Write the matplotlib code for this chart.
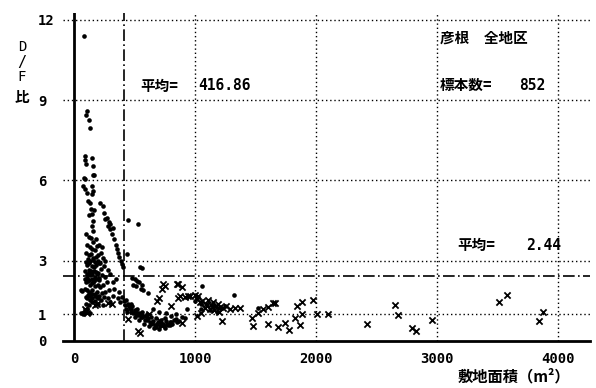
import matplotlib
matplotlib.use("Agg")
import matplotlib.pyplot as plt

plt.rcParams['font.family'] = ['Noto Sans CJK JP', 'DejaVu Sans']

# D/F ratio vs site area, Hikone (all districts)
# dots: filled circles, crosses: x markers
dot_x = [83, 107, 101, 124, 132, 91, 91, 99, 149, 157, 165, 83, 91, 157,
         74, 90, 107, 149, 157, 152, 116, 132, 215, 240,
         140, 165, 125, 150, 157, 145, 157, 273, 290, 297, 322,
         300, 315, 330, 345, 355, 365, 375, 385, 395, 405, 250, 260, 280,
         446, 529, 438, 545, 562,
         100, 120, 140, 160, 180, 110, 130, 150, 170, 190, 210, 230, 100, 120, 140, 160, 180, 200, 220, 240, 260,
         95, 110, 125, 145, 165, 185, 205, 225, 250, 280,
         90, 105, 120, 135, 150, 170, 190, 210, 235, 260, 300,
         88, 100, 115, 130, 145, 160, 175, 195, 215, 240, 270, 320, 350,
         90, 105, 120, 135, 150, 170, 190, 210, 230, 260, 290, 330, 370,
         95, 110, 130, 150, 175, 200, 225, 250, 280, 320, 360, 400,
         100, 125, 150, 200, 240, 300, 380, 58, 66,
         115, 135, 155, 175, 195, 215, 105, 125, 145, 165, 185, 205,
         112, 132, 152, 172, 192, 122, 142, 162, 182, 202,
         480, 500, 520, 540, 560, 490, 510, 550, 570, 610,
         410, 420, 430, 445, 460, 470, 480, 500, 510, 520, 540, 550, 560, 580, 590, 600, 615, 630,
         640, 655, 670, 680, 695, 710, 720, 735, 750, 760, 775, 790, 810, 830, 850, 870,
         620, 660, 700, 740, 580, 540, 500, 470, 430,
         655, 700, 760, 800, 840, 890, 920,
         455, 490, 525, 565, 605, 645, 685, 725, 765, 805, 845,
         440, 475, 515, 555, 595, 635, 675, 715, 755, 795,
         934, 1058, 1322, 1521,
         1000, 1050, 1100, 1150, 1200, 1250, 1050, 1120, 1180,
         60, 75, 85, 110, 130]
dot_y = [11.4, 8.6, 8.45, 8.25, 7.95, 6.9, 6.75, 6.6, 6.85, 6.55, 6.2, 6.1, 6.07, 6.19,
         5.8, 5.7, 5.55, 5.8, 5.6, 5.5, 5.25, 5.14, 5.17, 5.06,
         4.95, 4.9, 4.7, 4.76, 4.5, 4.3, 4.12, 4.6, 4.45, 4.39, 4.24,
         4.2, 4.0, 3.8, 3.6, 3.45, 3.3, 3.15, 3.0, 2.88, 2.75, 4.8, 4.55, 4.3,
         4.54, 4.39, 3.26, 2.77, 2.74,
         4.0, 3.9, 3.85, 3.7, 3.8, 3.6, 3.5, 3.45, 3.4, 3.55, 3.6, 3.5, 3.3, 3.2, 3.25, 3.1, 3.15, 3.2, 3.3, 3.1, 3.0,
         2.95, 2.85, 2.9, 2.8, 2.75, 2.85, 2.9, 2.7, 2.8, 2.65,
         2.6, 2.5, 2.55, 2.45, 2.5, 2.4, 2.5, 2.35, 2.45, 2.4, 2.5,
         2.3, 2.2, 2.25, 2.1, 2.15, 2.2, 2.05, 2.1, 2.0, 2.1, 2.2, 2.2, 2.3,
         1.95, 1.9, 1.85, 1.8, 1.9, 1.75, 1.85, 1.7, 1.8, 1.85, 1.9, 1.95, 1.85,
         1.65, 1.6, 1.55, 1.6, 1.5, 1.6, 1.55, 1.65, 1.6, 1.7, 1.6, 1.65,
         1.4, 1.35, 1.45, 1.4, 1.35, 1.45, 1.45, 1.9, 1.87,
         3.05, 2.98, 3.02, 2.95, 3.0, 2.92, 2.35, 2.28, 2.32, 2.25, 2.3, 2.27,
         1.72, 1.68, 1.75, 1.7, 1.66, 2.65, 2.6, 2.62, 2.58, 2.55,
         2.36, 2.3, 2.25, 2.2, 2.1, 2.1, 2.05, 1.95, 1.9, 1.8,
         1.5, 1.35, 1.2, 1.4, 1.25, 1.1, 1.3, 1.15, 1.0, 1.2, 1.05, 0.9, 1.1, 0.95, 0.8, 1.0, 0.85, 0.7,
         0.9, 0.75, 0.6, 0.85, 0.7, 0.55, 0.8, 0.65, 0.5, 0.75, 0.6, 0.7, 0.65, 0.8, 0.7, 0.75,
         0.55, 0.5, 0.45, 0.55, 0.65, 0.8, 0.9, 1.4, 1.55,
         1.2, 1.1, 1.05, 0.95, 1.0, 0.9, 0.85,
         1.3, 1.05, 0.98, 0.88, 0.78, 0.66, 0.62, 0.6, 0.62, 0.72, 0.82,
         1.1, 1.2, 1.1, 1.0, 0.92, 0.62, 0.52, 0.68, 0.86, 0.58,
         1.2, 2.06, 1.72, 1.24,
         1.5, 1.4, 1.35, 1.3, 1.25, 1.3, 1.2, 1.15, 1.1,
         1.05, 1.0, 1.1, 1.2, 1.05]

cross_x = [90, 107, 100, 173, 190, 280, 313, 446, 530, 545, 727, 752, 735, 850, 860, 892, 686, 700,
           860, 917, 942, 875, 1025, 960, 1000,
           1016, 1040, 1060, 1090, 1110, 1130, 1150, 1170, 1190, 1210, 1231, 1080, 1120, 1160, 1200, 1050,
           1330, 1372, 1290, 1260, 1016, 1223,
           463, 711, 892, 620, 800,
           1471, 1521, 1562, 1603, 1661, 1645, 1479, 1603, 1686, 1744, 1777, 1843, 1884, 1826, 1884, 1868,
           1975, 2008, 2099, 2421, 2653, 2678, 2793, 2826, 2959, 3512, 3578, 3843, 3876]
cross_y = [1.2, 1.05, 1.12, 1.35, 1.39, 1.42, 1.39, 0.82, 0.37, 0.3, 1.95, 2.06, 2.14, 2.14, 2.14, 2.02, 1.5, 1.6,
           1.61, 1.65, 1.69, 1.69, 1.69, 1.7, 1.72,
           1.57, 1.45, 1.5, 1.4, 1.55, 1.35, 1.45, 1.3, 1.4, 1.28, 1.24, 1.25, 1.2, 1.15, 1.1, 1.05,
           1.24, 1.24, 1.2, 1.3, 0.94, 0.75,
           1.24, 0.75, 0.67, 1.0, 1.3,
           0.86, 1.05, 1.2, 1.27, 1.42, 1.42, 0.56, 0.64, 0.52, 0.67, 0.41, 1.31, 1.46, 0.86, 1.01, 0.6,
           1.54, 1.01, 1.01, 0.64, 1.35, 0.97, 0.49, 0.37, 0.79, 1.46, 1.72, 0.75, 1.09]

mean_area = 416.86
mean_ratio = 2.44
n_samples = 852
xticks = [0, 1000, 2000, 3000, 4000]
yticks = [0, 1, 3, 6, 9, 12]

fig = plt.figure(figsize=(5.96, 3.88), dpi=100)
ax = fig.add_axes([63/596, 47/388, 527/596, 328/388])
ax.set_xlim(-91, 4264)
ax.set_ylim(0, 12.26)

# dotted grid
for y in yticks[1:]:
    ax.axhline(y, color='black', lw=1, ls=(0, (1, 2)), zorder=1)
for x in xticks[1:]:
    ax.axvline(x, color='black', lw=1, ls=(0, (1, 2)), zorder=1)

# mean lines
ax.axvline(mean_area, color='black', lw=1.2, ls=(0, (7, 2, 1, 2)), zorder=1)
ax.axhline(mean_ratio, color='black', lw=1.2, ls=(0, (7, 2, 1, 2)), zorder=1)

# axis lines
ax.axvline(0, color='black', lw=2, zorder=3)
for s in ['left', 'right', 'top']:
    ax.spines[s].set_visible(False)
ax.spines['bottom'].set_linewidth(2)

ax.scatter(dot_x, dot_y, s=11, c='black', marker='o', linewidths=0, zorder=4)
ax.scatter(cross_x, cross_y, s=20, c='black', marker='x', linewidths=1.3, zorder=4)

ax.set_xticks(xticks)
ax.set_xticklabels([str(v) for v in xticks], family='DejaVu Sans Mono', weight='bold', fontsize=10)
ax.set_yticks(yticks)
ax.set_yticklabels([str(v) for v in yticks], family='DejaVu Sans Mono', weight='bold', fontsize=10, ha='left')
ax.tick_params(axis='x', length=0, pad=8)
ax.tick_params(axis='y', length=0, pad=18)

# y label stacked
fig.text(22/596, 1 - 47/388, 'D', ha='center', va='center', family='DejaVu Sans Mono', fontsize=10)
fig.text(22/596, 1 - 62/388, '/', ha='center', va='center', family='DejaVu Sans Mono', fontsize=11)
fig.text(22/596, 1 - 77/388, 'F', ha='center', va='center', family='DejaVu Sans Mono', fontsize=10)
fig.text(22/596, 1 - 97/388, '比', ha='center', va='center', fontsize=10.5, weight='bold')

fig.text(458/596, 1 - 376/388, '敷地面積（m²）', ha='left', va='center', fontsize=11, weight='bold')

def t(px, py, s, ha='left', **kw):
    fig.text(px/596, 1 - py/388, s, ha=ha, va='center', fontsize=10.5, weight='bold', **kw)

t(140, 86, '平均=')
t(198, 86, f'{mean_area:.2f}', family='DejaVu Sans Mono')
t(440, 38, '彦根　全地区')
t(440, 85, '標本数=')
t(545, 85, str(n_samples), ha='right', family='DejaVu Sans Mono')
t(457, 245, '平均=')
t(561, 245, f'{mean_ratio:.2f}', ha='right', family='DejaVu Sans Mono')

fig.savefig('out.png', dpi=100)
